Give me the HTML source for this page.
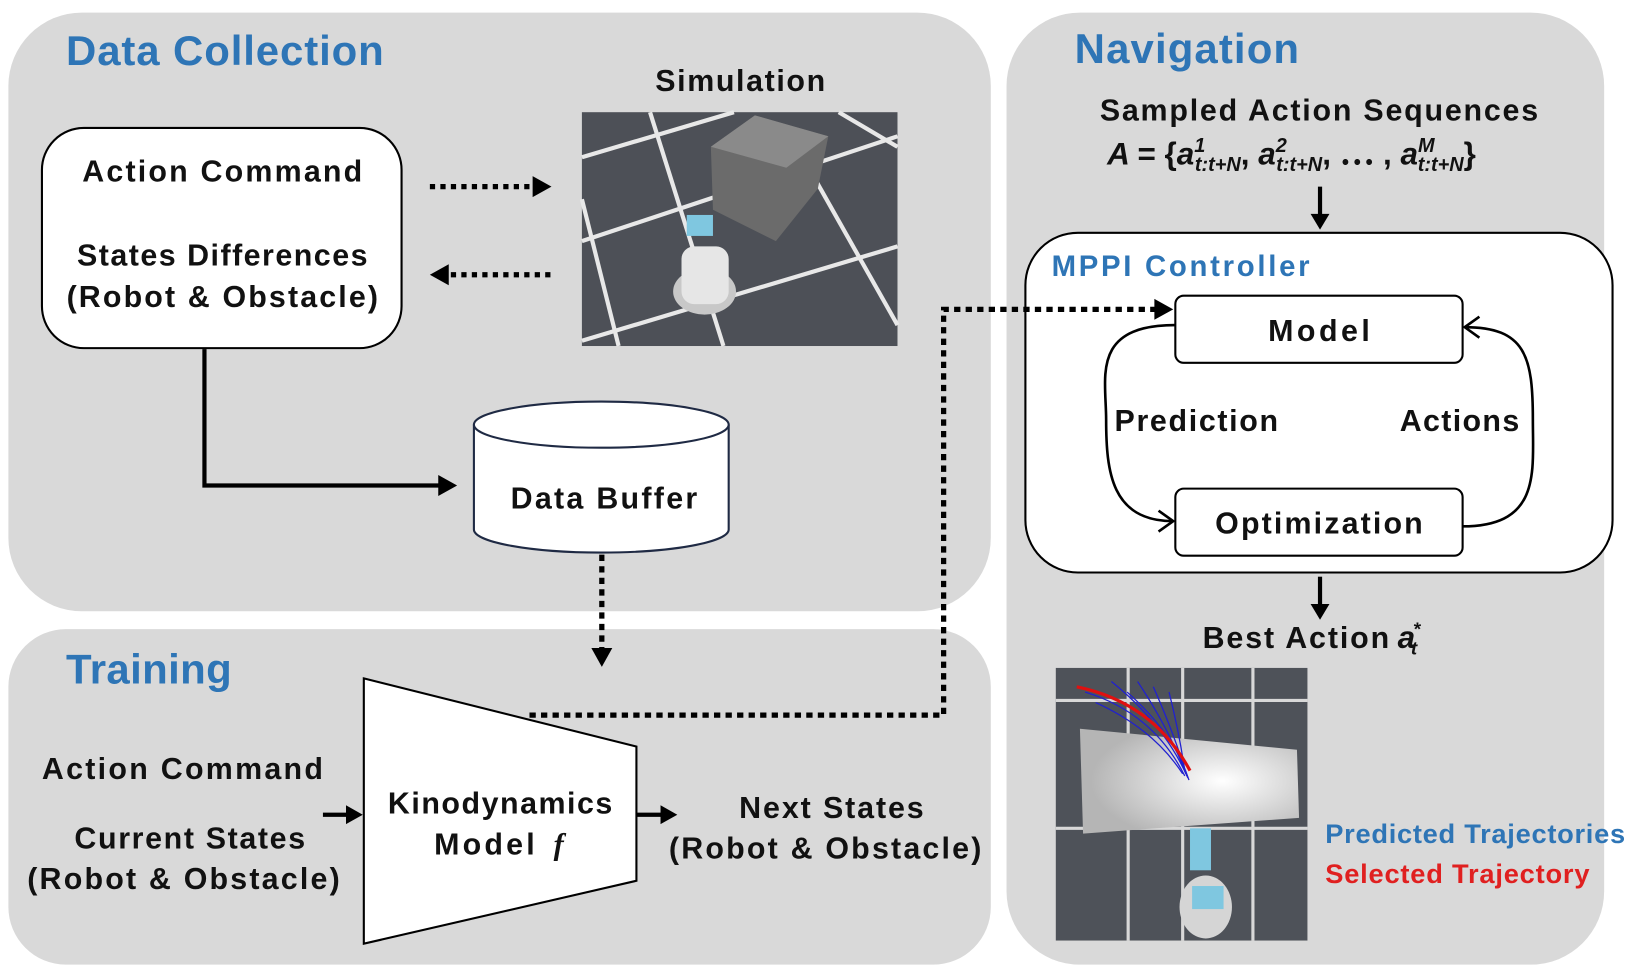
<!DOCTYPE html>
<html><head><meta charset="utf-8"><style>
html,body{margin:0;padding:0;background:#fff;}
svg{display:block;}
text{font-family:"Liberation Sans","Noto Sans CJK KR",sans-serif;font-weight:bold;}
.t{font-size:29px;fill:#111;}
.h{font-size:40px;fill:#2e75b6;}
.m{font-family:"Liberation Serif",serif;font-style:italic;}
</style></head><body>
<svg width="1644" height="972" viewBox="0 0 1568 927" preserveAspectRatio="none" xmlns="http://www.w3.org/2000/svg">
<defs>
<marker id="ao" markerWidth="20" markerHeight="24" refX="16" refY="12" orient="auto" markerUnits="userSpaceOnUse"><path d="M2,2 L16,12 L2,22" fill="none" stroke="#000" stroke-width="2.5"/></marker>
<radialGradient id="bx" cx="0.65" cy="0.5" r="0.6"><stop offset="0" stop-color="#fff"/><stop offset="1" stop-color="#b5b5b5"/></radialGradient>
</defs>
<!-- panels -->
<rect x="8" y="12" width="937" height="571" rx="70" fill="#d9d9d9"/>
<rect x="8" y="600" width="937" height="320" rx="55" fill="#d9d9d9"/>
<rect x="960" y="12" width="570" height="908" rx="70" fill="#d9d9d9"/>
<text class="h" x="63" y="62" textLength="303">Data Collection</text>
<text class="h" x="63" y="652" textLength="158">Training</text>
<text class="h" x="1025" y="60" textLength="214">Navigation</text>

<!-- Data collection -->
<rect x="40" y="122" width="343" height="210" rx="40" fill="#fff" stroke="#000" stroke-width="2"/>
<text class="t" x="212" y="173" text-anchor="middle" textLength="267">Action Command</text>
<text class="t" x="212" y="253" text-anchor="middle" textLength="277">States Differences</text>
<text class="t" x="212" y="293" text-anchor="middle" textLength="297">(Robot &amp; Obstacle)</text>
<text class="t" x="706" y="87" text-anchor="middle" textLength="162">Simulation</text>
<!-- sim image -->
<rect x="555" y="107" width="301" height="223" fill="#4d5057"/>
<g stroke="#e8e8e8" stroke-width="4" fill="none">
<path d="M555,150 L700,107"/><path d="M555,230 L856,130"/><path d="M555,325 L856,235"/>
<path d="M620,107 L690,330"/><path d="M760,140 L856,310"/><path d="M800,107 L856,140"/><path d="M555,190 L590,330"/>
</g>
<polygon points="678,140 720,110 790,130 780,180 740,230 680,200" fill="#6b6b6b"/>
<polygon points="678,140 720,110 790,130 750,160" fill="#8a8a8a"/>
<ellipse cx="672" cy="278" rx="30" ry="22" fill="#c8c8c8"/>
<rect x="650" y="235" width="45" height="55" rx="12" fill="#e6e6e6"/>
<rect x="655" y="205" width="25" height="20" fill="#7fc7e0"/>
<line x1="410" y1="178" x2="510" y2="178" stroke="#000" stroke-width="5" stroke-dasharray="5,5"/>
<path d="M508,168 L526,178 L508,188 z"/>
<line x1="430" y1="262" x2="526" y2="262" stroke="#000" stroke-width="5" stroke-dasharray="5,5"/>
<path d="M428,252 L410,262 L428,272 z"/>
<polyline points="195,333 195,463 420,463" fill="none" stroke="#000" stroke-width="4"/>
<path d="M418,453 L436,463 L418,473 z"/>
<!-- cylinder -->
<path d="M452,405 L452,505 A121.5,22 0 0 0 695,505 L695,405" fill="#fff" stroke="#1f2a44" stroke-width="2"/>
<ellipse cx="573.5" cy="405" rx="121.5" ry="22" fill="#fff" stroke="#1f2a44" stroke-width="2"/>
<text class="t" x="576" y="485" text-anchor="middle" textLength="178">Data Buffer</text>
<line x1="574" y1="529" x2="574" y2="620" stroke="#000" stroke-width="5" stroke-dasharray="6,5"/>
<path d="M564,618 L574,636 L584,618 z"/>

<!-- Training -->
<polygon points="347,647 607,712 607,840 347,900" fill="#fff" stroke="#000" stroke-width="2"/>
<text class="t" x="40" y="743" textLength="268">Action Command</text>
<text class="t" x="181" y="809" text-anchor="middle" textLength="220">Current States</text>
<text class="t" x="175" y="848" text-anchor="middle" textLength="298">(Robot &amp; Obstacle)</text>
<line x1="308" y1="777" x2="332" y2="777" stroke="#000" stroke-width="4"/><path d="M330,768 L346,777 L330,786 z"/>
<text class="t" x="477" y="776" text-anchor="middle" textLength="214">Kinodynamics</text>
<text class="t" x="462" y="815" text-anchor="middle" textLength="96">Model</text>
<text class="t m" x="528" y="815" font-size="32">f</text>
<line x1="607" y1="777" x2="632" y2="777" stroke="#000" stroke-width="4"/><path d="M630,768 L646,777 L630,786 z"/>
<text class="t" x="793" y="780" text-anchor="middle" textLength="176">Next States</text>
<text class="t" x="787" y="819" text-anchor="middle" textLength="298">(Robot &amp; Obstacle)</text>

<!-- Navigation -->
<text class="t" x="1258" y="115" text-anchor="middle" textLength="418">Sampled Action Sequences</text>
<text x="1056" y="157" font-family="Liberation Serif,serif" font-size="30" font-weight="bold" font-style="italic" fill="#111">A <tspan font-style="normal">= {</tspan>a<tspan font-size="19" dy="-12">1</tspan><tspan font-size="19" dx="-10" dy="18">t:t+N</tspan><tspan dy="-6" font-style="normal">, </tspan>a<tspan font-size="19" dy="-12">2</tspan><tspan font-size="19" dx="-10" dy="18">t:t+N</tspan><tspan dy="-6" font-style="normal">, ⋯ , </tspan>a<tspan font-size="19" dy="-12">M</tspan><tspan font-size="19" dx="-16" dy="18">t:t+N</tspan><tspan dy="-6" font-style="normal">}</tspan></text>
<line x1="1259" y1="178" x2="1259" y2="206" stroke="#000" stroke-width="4"/><path d="M1250,204 L1259,219 L1268,204 z"/>
<rect x="978" y="222" width="560" height="324" rx="50" fill="#fff" stroke="#000" stroke-width="2"/>
<text x="1003" y="263" font-size="28" fill="#2e75b6" textLength="246">MPPI Controller</text>
<rect x="1121" y="282" width="274" height="64" rx="8" fill="#fff" stroke="#000" stroke-width="2"/>
<text class="t" x="1258" y="325" text-anchor="middle" textLength="97">Model</text>
<rect x="1121" y="466" width="274" height="64" rx="8" fill="#fff" stroke="#000" stroke-width="2"/>
<text class="t" x="1258" y="509" text-anchor="middle" textLength="198">Optimization</text>
<path d="M1121,310 C1040,310 1055,360 1055,400 C1055,450 1060,497 1119,497" fill="none" stroke="#000" stroke-width="2.5" marker-end="url(#ao)"/>
<path d="M1395,502 C1470,502 1462,450 1462,400 C1462,340 1455,312 1397,312" fill="none" stroke="#000" stroke-width="2.5" marker-end="url(#ao)"/>
<text class="t" x="1063" y="411" textLength="156">Prediction</text>
<text class="t" x="1335" y="411" textLength="114">Actions</text>
<line x1="1259" y1="550" x2="1259" y2="578" stroke="#000" stroke-width="4"/><path d="M1250,576 L1259,591 L1268,576 z"/>
<text class="t" x="1147" y="618" textLength="178">Best Action</text>
<text x="1333" y="618" font-family="Liberation Serif,serif" font-size="30" font-weight="bold" font-style="italic" fill="#111">a<tspan font-size="18" dx="-2" dy="-12">*</tspan><tspan font-size="18" dx="-9" dy="18">t</tspan></text>
<!-- nav image -->
<rect x="1007" y="637" width="240" height="260" fill="#4e5259"/>
<g stroke="#d8d8d8" stroke-width="3">
<line x1="1007" y1="668" x2="1247" y2="668"/><line x1="1007" y1="790" x2="1247" y2="790"/>
<line x1="1128" y1="637" x2="1128" y2="897"/><line x1="1076" y1="637" x2="1076" y2="897"/><line x1="1195" y1="637" x2="1195" y2="897"/>
</g>
<polygon points="1080,700 1287,720 1289,785 1083,800" fill="url(#bx)" transform="translate(-50,-5)"/>
<g stroke="#2020d0" stroke-width="1.2" fill="none">
<path d="M1035,660 Q1100,680 1130,740"/><path d="M1060,650 Q1110,690 1133,742"/><path d="M1085,650 Q1115,695 1131,738"/><path d="M1100,655 Q1120,700 1132,740"/><path d="M1115,660 Q1125,700 1130,735"/><path d="M1045,670 Q1100,695 1128,738"/><path d="M1075,660 Q1120,700 1134,744"/>
</g>
<path d="M1027,655 Q1100,670 1135,735" stroke="#e01010" stroke-width="3" fill="none"/>
<rect x="1135" y="790" width="20" height="40" fill="#7fc7e0"/>
<ellipse cx="1150" cy="865" rx="25" ry="30" fill="#d5d5d5"/>
<rect x="1137" y="845" width="30" height="22" fill="#7fc7e0"/>
<text x="1264" y="804" font-size="26" fill="#2e75b6" textLength="286">Predicted Trajectories</text>
<text x="1264" y="842" font-size="26" fill="#e02020" textLength="252">Selected Trajectory</text>

<!-- long dotted (on top) -->
<polyline points="505,682 900,682 900,295 1105,295" fill="none" stroke="#000" stroke-width="5" stroke-dasharray="6,5"/>
<path d="M1101,285 L1119,295 L1101,305 z"/>
</svg>
</body></html>
